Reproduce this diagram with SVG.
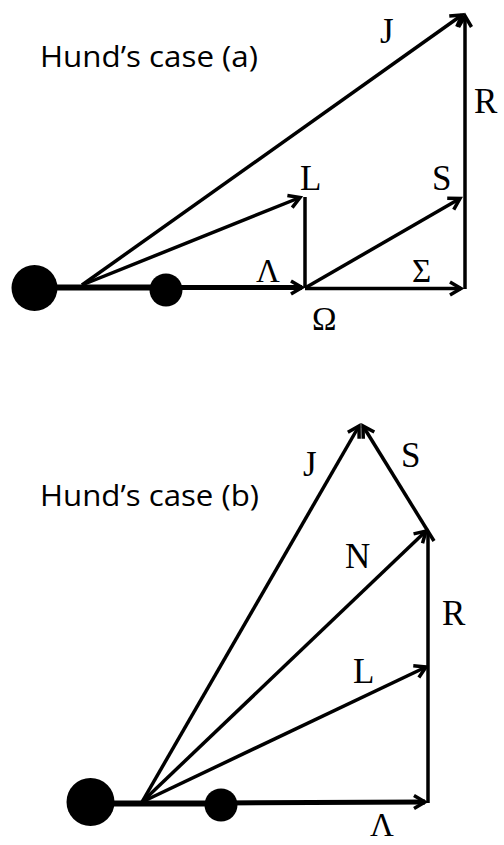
<svg xmlns="http://www.w3.org/2000/svg" width="504" height="845" viewBox="0 0 504 845">
<style>
.title{font-family:"Open Sans","Liberation Sans",sans-serif;font-size:29px;fill:#000;}
.lbl{font-family:"Liberation Serif","DejaVu Serif",serif;font-size:35px;fill:#000;}
.gk{font-family:"Liberation Serif","DejaVu Serif",serif;font-size:33px;fill:#000;}
.vec{stroke:#000;stroke-width:3.5;fill:none;marker-end:url(#arr);}
.seg{stroke:#000;stroke-width:3.5;fill:none;}
.bar{stroke:#000;stroke-width:6;fill:none;}
.axis{stroke:#000;stroke-width:5;fill:none;marker-end:url(#arr);}
.atom{fill:#000;}
</style>
<defs>
<marker id="arr" markerUnits="userSpaceOnUse" markerWidth="30" markerHeight="30" viewBox="-15 -15 30 30" refX="0" refY="0" orient="auto" overflow="visible">
<path d="M-11,-6.5 L0,0 L-11,6.5" fill="none" stroke="#000" stroke-width="3.5"/>
</marker>
</defs>
<rect width="504" height="845" fill="#fff"/>

<!-- Case (a) -->
<g id="title-a"><text class="title" x="40" y="67" textLength="218" lengthAdjust="spacingAndGlyphs">Hund’s case (a)</text></g>
<g id="connectors-a">
<line class="bar" x1="34" y1="287.5" x2="166" y2="287.5"/>
<line class="axis" x1="166" y1="287.5" x2="302" y2="287.5"/>
<line class="vec" x1="82" y1="285" x2="462" y2="15"/>
<line class="vec" x1="82" y1="285" x2="300" y2="197.5"/>
<line class="seg" x1="305" y1="197" x2="305" y2="288"/>
<line class="vec" x1="305" y1="288" x2="460" y2="198.5"/>
<line class="vec" x1="305" y1="288.5" x2="461" y2="288.5"/>
<line class="vec" x1="465" y1="289" x2="465" y2="16"/>
</g>
<g id="atom-a-big"><circle class="atom" cx="34.5" cy="288" r="23"/></g>
<g id="atom-a-small"><circle class="atom" cx="166" cy="290" r="16.5"/></g>
<g id="labels-a">
<text class="lbl" x="380" y="43">J</text>
<text class="lbl" x="474" y="113">R</text>
<text class="lbl" x="300" y="190">L</text>
<text class="lbl" x="432" y="190">S</text>
<text class="gk" x="256" y="282" font-size="31">Λ</text>
<text class="gk" x="412" y="282">Σ</text>
<text class="gk" x="312" y="330">Ω</text>
</g>

<!-- Case (b) -->
<g id="title-b"><text class="title" x="40" y="506" textLength="219" lengthAdjust="spacingAndGlyphs">Hund’s case (b)</text></g>
<g id="connectors-b">
<line class="bar" x1="90" y1="803.5" x2="221" y2="803.5"/>
<line class="axis" x1="221" y1="803" x2="425" y2="802"/>
<line class="vec" x1="142" y1="802" x2="359" y2="426"/>
<line class="vec" x1="142" y1="802" x2="426" y2="531"/>
<line class="vec" x1="142" y1="802" x2="426" y2="667"/>
<line class="seg" x1="428" y1="803" x2="428" y2="533"/>
<line class="vec" x1="434" y1="541" x2="363" y2="426"/>
</g>
<g id="atom-b-big"><circle class="atom" cx="90.5" cy="802" r="24"/></g>
<g id="atom-b-small"><circle class="atom" cx="221" cy="805" r="16.5"/></g>
<g id="labels-b">
<text class="lbl" x="303" y="476">J</text>
<text class="lbl" x="401" y="467">S</text>
<text class="lbl" x="345" y="568">N</text>
<text class="lbl" x="442" y="625">R</text>
<text class="lbl" x="353" y="683">L</text>
<text class="gk" x="370" y="836" font-size="30">Λ</text>
</g>
</svg>
